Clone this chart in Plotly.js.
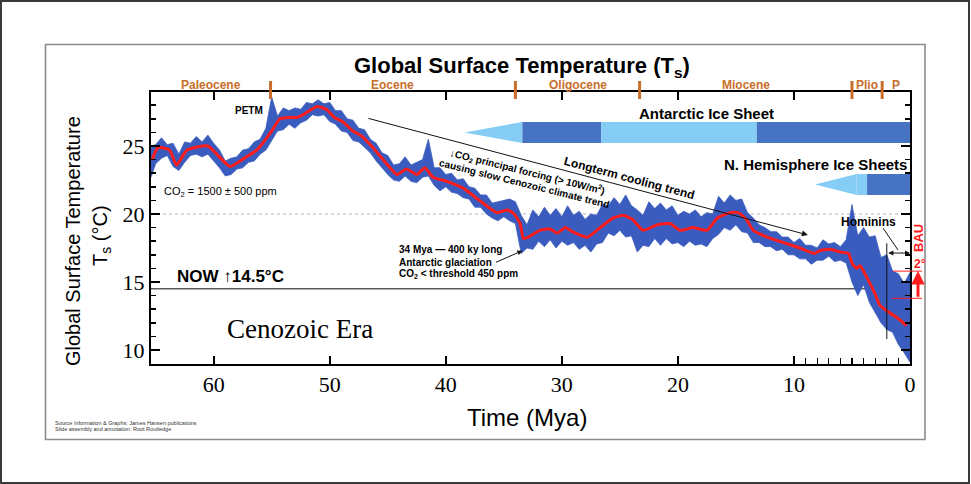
<!DOCTYPE html>
<html><head><meta charset="utf-8">
<script src="https://cdn.plot.ly/plotly-3.0.1.min.js"></script>
<style>html,body{margin:0;padding:0;background:#fff}#chart{width:971px;height:484px}</style>
</head><body><div id="chart"></div>
<script>
// ---------- DATA ----------
const epochNames  = ['Paleocene','Eocene','Oligocene','Miocene','Plio','P'];
const epochBounds = [65.4, 55.1, 34.0, 23.3, 5.0, 2.4, 0];

const smoothAge  = [65.3,64.8,63.8,63.2,62.3,60.5,58.6,57.2,56.3,55.0,54.3,53.4,52.8,52.3,51.1,50.3,49.6,48.9,48.0,47.2,46.3,45.1,44.2,43.4,42.5,41.8,41.1,39.9,38.5,37.1,35.6,34.7,34.1,33.6,33.3,32.9,31.9,31.0,30.4,29.7,29.1,27.8,26.7,25.6,24.7,23.9,23.0,21.8,20.7,19.8,18.7,17.5,16.6,15.5,14.8,14.1,13.5,12.3,10.9,9.5,8.2,7.8,6.9,6.0,5.3,5.0,4.6,4.3,3.7,3.0,2.6,1.7,1.0,0.3];
const smoothTemp = [24.0,24.9,24.7,23.6,24.7,25.0,23.5,24.2,24.7,26.1,27.0,27.1,27.1,27.3,27.9,27.7,27.1,26.8,26.1,25.7,24.9,23.7,22.9,23.3,22.9,23.4,22.7,22.4,21.9,21.0,20.1,20.3,20.0,19.3,18.2,18.3,18.8,18.9,18.6,19.0,18.7,18.3,19.0,19.7,19.9,19.6,18.8,19.2,19.3,18.8,19.0,18.8,19.7,20.1,20.1,19.6,18.8,18.3,17.9,17.5,17.1,17.3,17.4,17.2,17.1,16.4,16.0,16.2,15.3,14.1,13.3,12.7,12.3,11.8];

const bandAge  = [65.4,65.0,64.5,64.0,63.5,63.0,62.5,62.0,61.5,61.0,60.5,60.0,59.5,59.0,58.5,58.0,57.5,57.0,56.5,56.0,55.5,55.0,54.5,54.0,53.5,53.0,52.5,52.0,51.5,51.0,50.5,50.0,49.5,49.0,48.5,48.0,47.5,47.0,46.5,46.0,45.5,45.0,44.5,44.0,43.5,43.0,42.5,42.0,41.5,41.0,40.5,40.0,39.5,39.0,38.5,38.0,37.5,37.0,36.5,36.0,35.5,35.0,34.5,34.0,33.5,33.0,32.5,32.0,31.5,31.0,30.5,30.0,29.5,29.0,28.5,28.0,27.5,27.0,26.5,26.0,25.5,25.0,24.5,24.0,23.5,23.0,22.5,22.0,21.5,21.0,20.5,20.0,19.5,19.0,18.5,18.0,17.5,17.0,16.5,16.0,15.5,15.0,14.5,14.0,13.5,13.0,12.5,12.0,11.5,11.0,10.5,10.0,9.5,9.0,8.5,8.0,7.5,7.0,6.5,6.0,5.5,5.0,4.5,4.0,3.5,3.0,2.5,2.0,1.5,1.0,0.5,0.0];
const bandHigh = [25.0,25.1,25.6,25.1,25.2,24.4,25.3,25.2,25.7,25.3,25.8,25.2,24.7,23.9,24.1,24.2,24.7,24.8,25.3,25.5,26.3,28.6,27.2,27.8,27.6,27.8,27.7,28.2,28.1,28.4,28.1,28.2,27.6,27.6,27.0,26.9,26.3,26.2,25.5,25.2,24.5,24.3,23.6,23.7,24.2,23.6,23.8,24.0,25.5,23.4,23.4,22.9,23.0,22.5,22.6,22.0,21.9,21.4,21.4,20.8,20.9,21.0,21.1,20.9,19.9,19.2,20.3,19.8,20.5,19.9,20.4,19.8,20.6,19.9,20.2,19.6,20.0,19.9,20.7,20.6,21.2,20.7,21.4,20.6,20.3,19.9,20.9,20.4,20.8,20.3,20.6,19.9,20.2,20.0,20.3,19.8,20.1,20.0,21.3,20.8,21.4,21.0,21.1,20.1,19.7,19.2,19.0,18.7,18.7,18.3,18.3,17.9,18.2,17.7,17.7,17.5,18.1,17.8,17.9,17.6,18.1,20.7,18.4,19.0,18.3,18.4,16.8,17.0,15.8,15.6,14.9,15.7];
const bandLow  = [22.7,23.7,24.1,24.3,23.5,23.2,23.8,24.3,24.4,24.2,24.4,23.9,23.4,22.8,22.9,23.3,23.4,23.8,23.9,24.4,24.7,25.4,26.1,26.2,26.6,26.3,26.7,26.9,27.3,27.2,27.3,26.8,26.6,26.1,26.0,25.4,25.3,24.9,24.5,23.9,23.4,22.9,22.5,22.4,22.8,22.4,22.3,22.7,22.8,22.1,21.7,22.0,21.6,21.5,21.2,21.1,20.5,20.5,20.0,19.7,19.5,19.8,19.5,19.3,17.1,17.5,17.4,18.0,17.6,18.1,17.5,18.0,17.7,17.9,17.4,17.7,17.2,17.8,17.9,18.6,18.4,18.8,18.3,18.4,17.2,17.7,17.6,18.2,17.7,18.2,17.8,17.9,17.6,18.0,17.7,17.8,17.6,18.2,18.5,19.0,18.8,19.2,18.7,18.6,17.9,17.9,17.6,17.6,17.3,17.4,17.0,17.0,16.7,16.7,16.3,16.6,16.6,16.9,16.5,16.6,16.4,15.0,14.0,14.8,13.5,12.8,12.0,11.5,11.3,10.4,9.8,9.1];

// Ice-sheet periods (Mya): taper tip, then segment boundaries
const antarcticAge  = [38.4, 33.4, 26.6, 13.2, 0];
const antarcticTone = ['light','dark','light','dark'];
const nhAge  = [8.2, 4.6, 3.7, 0];
const nhTone = ['light','light','dark'];

const nowTemp = 14.5;
const refTemp = 20;
const homininAge = 2.0;
const bauLow = 13.8, bauHigh = 15.8;
const xTicks = [60,50,40,30,20,10,0];
const xMinorTicks = [1,2,3,4,5,6,7,8,9];
const yTicks = [10,15,20,25];

// ---------- STYLE ----------
const W = 971, H = 484;
const X = px => px / W;
const Y = py => 1 - py / H;
const SANS = 'Liberation Sans, Arial, sans-serif';
const SERIF = 'Liberation Serif, Times New Roman, serif';
const BLUE = '#3b5cbf', RED = '#ff1c1c', ORANGE = '#c86e2a';
const DARK = '#4673c2', LIGHT = '#86cdf6';
const xDom = [X(151), X(910)], yDom = [Y(364), Y(92)];
const xRange = [65.4, 0], yRange = [8.97, 28.97];

const traces = [
  {x: bandAge, y: bandLow, mode:'lines', line:{color:BLUE, width:0.8}, hoverinfo:'skip'},
  {x: bandAge, y: bandHigh, mode:'lines', fill:'tonexty', fillcolor:BLUE, line:{color:BLUE, width:0.8}, hoverinfo:'skip'},
  {x: smoothAge, y: smoothTemp, mode:'lines', line:{color:RED, width:3, shape:'spline', smoothing:0.5}, hoverinfo:'skip'},
  {x: [homininAge], y: [nowTemp], xaxis:'x2', mode:'markers', marker:{opacity:0}, hoverinfo:'skip'}
];

const shapes = [];
shapes.push({type:'rect', xref:'paper', yref:'paper', x0:X(1), x1:X(969), y0:Y(483), y1:Y(1), line:{color:'#3a3a3a', width:2}});
shapes.push({type:'rect', xref:'paper', yref:'paper', x0:X(45.5), x1:X(925), y0:Y(439.5), y1:Y(44.5), line:{color:'#8c8c8c', width:1.6}});
shapes.push({type:'line', xref:'x domain', yref:'y', x0:0, x1:1, y0:refTemp, y1:refTemp, layer:'below', line:{color:'#b4b4b4', width:1, dash:'dot'}});
shapes.push({type:'line', xref:'x domain', yref:'y', x0:0, x1:1, y0:nowTemp, y1:nowTemp, layer:'below', line:{color:'#5a5a5a', width:1.6}});
epochBounds.slice(1, -1).forEach(b => shapes.push({type:'line', xref:'x', yref:'paper', x0:b, x1:b, y0:Y(99), y1:Y(81), line:{color:ORANGE, width:3}}));
function iceBar(ages, tones, top, bot) {
  const mid = (top + bot) / 2;
  shapes.push({type:'path', xref:'x', yref:'paper', path:`M ${ages[0]},${mid} L ${ages[1]},${top} L ${ages[1]},${bot} Z`, fillcolor: tones[0]==='dark'?DARK:LIGHT, line:{width:0}});
  for (let i = 1; i < ages.length - 1; i++) {
    shapes.push({type:'rect', xref:'x', yref:'paper', x0:ages[i], x1:ages[i+1], y0:bot, y1:top, fillcolor: tones[i]==='dark'?DARK:LIGHT, line:{width:0}});
  }
}
iceBar(antarcticAge, antarcticTone, Y(122), Y(143));
iceBar(nhAge, nhTone, Y(174), Y(195));
shapes.push({type:'line', xref:'x', yref:'y', x0:homininAge, x1:homininAge, y0:10.8, y1:17.85, line:{color:'#111', width:1}});
shapes.push({type:'line', xref:'x', yref:'y', x0:2.33, x1:1.03, y0:18.97, y1:17.35, line:{color:'#111', width:1}});
shapes.push({type:'line', xref:'paper', yref:'y', x0:X(893), x1:X(922), y0:bauHigh, y1:bauHigh, line:{color:RED, width:1}});
shapes.push({type:'line', xref:'paper', yref:'y', x0:X(892), x1:X(922), y0:bauLow, y1:bauLow, line:{color:RED, width:1}});

const ann = [];
function txt(text, x, y, size, opts = {}) {
  ann.push(Object.assign({text, x, y, xref:'paper', yref:'paper', showarrow:false, xanchor:'center', yanchor:'middle',
    font:{family:SANS, size, color:'#000'}}, opts));
}
txt('<b>Global Surface Temperature (T<sub>s</sub>)</b>', X(522), Y(67), 22);
txt('Global Surface Temperature', X(73), Y(241), 20, {textangle:-90});
txt('T<sub>s</sub> (°C)', X(102), Y(236), 20, {textangle:-90});
txt('Time (Mya)', X(527), Y(417), 24);
epochNames.forEach((n, i) => ann.push({text:'<b>'+n+'</b>', x:(epochBounds[i]+epochBounds[i+1])/2, xref:'x', y:Y(85), yref:'paper', showarrow:false, xanchor:'center', yanchor:'middle', font:{family:SANS, size:12, color:ORANGE}}));
txt('<b>PETM</b>', X(249), Y(110), 10);
txt('CO<sub>2</sub> = 1500 ± 500 ppm', X(162), Y(192), 11, {xanchor:'left'});
txt('<b>NOW ↑14.5°C</b>', X(230), Y(276), 17);
txt('Cenozoic Era', X(300), Y(329), 27, {font:{family:SERIF, size:27, color:'#000'}});
txt('<b>34 Mya — 400 ky long</b>', X(397), Y(250), 10, {xanchor:'left'});
txt('<b>Antarctic glaciation</b>', X(397), Y(262), 10, {xanchor:'left'});
txt('<b>CO<sub>2</sub> &lt; threshold 450 ppm</b>', X(397), Y(274), 10, {xanchor:'left'});
txt('<b>Longterm cooling trend</b>', X(629), Y(178), 12, {textangle:15});
txt('<b>↓CO<sub>2</sub> principal forcing (&gt; 10W/m<sup>2</sup>)</b>', X(527), Y(171), 10, {textangle:14});
txt('<b>causing slow Cenozoic climate trend</b>', X(524), Y(183), 10, {textangle:14});
txt('<b>Antarctic Ice Sheet</b>', X(706), Y(113), 15);
txt('<b>N. Hemisphere Ice Sheets</b>', X(815), Y(165), 15);
txt('<b>Hominins</b>', X(868), Y(222), 12);
txt('<b>BAU</b>', X(918), Y(238), 13, {textangle:-90, font:{family:SANS, size:13, color:RED}});
txt('<b>2°</b>', X(920), Y(264), 12, {font:{family:SANS, size:12, color:RED}});
txt('Source Information &amp; Graphs: James Hansen publications', X(53), Y(423), 5.5, {xanchor:'left', font:{family:SANS, size:5.5, color:'#333'}});
txt('Slide assembly and annotation: Root Routledge', X(53), Y(429), 5.5, {xanchor:'left', font:{family:SANS, size:5.5, color:'#333'}});
ann.push({text:'', x:33.4, y:17.3, xref:'x', yref:'y', ax:35.8, ay:16.4, axref:'x', ayref:'y', showarrow:true, arrowhead:2, arrowsize:1, arrowwidth:1, arrowcolor:'#111'});
ann.push({text:'', x:8.8, y:18.46, xref:'x', yref:'y', ax:46.8, ay:27.06, axref:'x', ayref:'y', showarrow:true, arrowhead:2, arrowsize:1.2, arrowwidth:1, arrowcolor:'#111'});
ann.push({text:'', x:0, y:17.13, xref:'x', yref:'y', ax:homininAge, ay:17.13, axref:'x', ayref:'y', showarrow:true, arrowside:'end+start', arrowhead:2, arrowsize:1, arrowwidth:1, arrowcolor:'#111'});
ann.push({text:'', x:X(918), y:bauHigh, xref:'paper', yref:'y', ax:0, ay:bauLow, axref:'pixel', ayref:'y', showarrow:true, arrowhead:2, arrowsize:0.9, arrowwidth:3, arrowcolor:RED});

const axisCommon = {showgrid:false, zeroline:false, showline:true, linecolor:'#000', linewidth:2, mirror:'ticks',
  ticks:'inside', tickcolor:'#000', tickfont:{family:SERIF, size:22, color:'#000'}};

const layout = {
  width:W, height:H, margin:{l:0, r:0, t:0, b:0}, showlegend:false,
  paper_bgcolor:'#fff', plot_bgcolor:'rgba(0,0,0,0)',
  xaxis: Object.assign({}, axisCommon, {domain:xDom, range:xRange, tickmode:'array', tickvals:xTicks, ticklen:8, tickwidth:2, anchor:'y'}),
  xaxis2: {overlaying:'x', anchor:'y', side:'bottom', domain:xDom, range:xRange, tickmode:'array', tickvals:xMinorTicks,
    ticks:'inside', ticklen:6, tickwidth:1.2, tickcolor:'#000', showticklabels:false, showline:false, showgrid:false, zeroline:false},
  yaxis: Object.assign({}, axisCommon, {domain:yDom, range:yRange, tickmode:'array', tickvals:yTicks, ticklen:9, tickwidth:2,
    minor:{dtick:1, tick0:0, ticks:'inside', ticklen:5, tickwidth:1.5, tickcolor:'#000'}, anchor:'x'}),
  shapes, annotations: ann
};
Plotly.newPlot('chart', traces, layout, {displayModeBar:false, staticPlot:true});
</script></body></html>
